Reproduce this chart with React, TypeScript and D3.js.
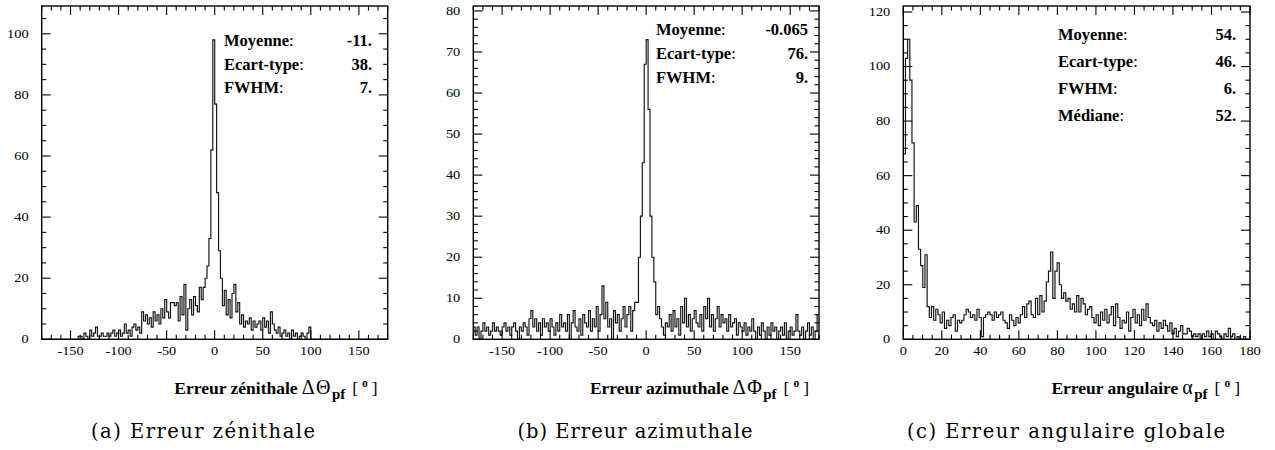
import * as d3 from 'd3';

// (a) zenith error, 2 deg bins from -180 to 180
const zenithBins = [
  0, 0, 0, 0, 0, 0, 0, 0, 0, 0,
  0, 0, 0, 0, 0, 0, 0, 0, 0, 1,
  1, 0, 2, 1, 0, 3, 1, 2, 4, 1,
  1, 2, 1, 1, 2, 1, 2, 3, 1, 2,
  3, 1, 2, 5, 2, 3, 1, 4, 5, 3,
  4, 2, 9, 6, 8, 5, 7, 4, 9, 6,
  8, 5, 10, 7, 13, 9, 7, 12, 12, 11,
  12, 6, 14, 8, 18, 3, 10, 13, 8, 14,
  11, 9, 17, 13, 17, 20, 24, 33, 62, 98,
  77, 48, 29, 20, 11, 16, 8, 13, 7, 15,
  18, 9, 12, 5, 8, 4, 6, 5, 7, 3,
  6, 4, 5, 6, 3, 7, 4, 6, 2, 9,
  5, 3, 2, 4, 1, 2, 3, 1, 2, 0,
  3, 1, 2, 0, 1, 2, 1, 0, 2, 4,
  0, 0, 0, 0, 0, 0, 0, 0, 0, 0,
  0, 0, 0, 0, 0, 0, 0, 0, 0, 0,
  0, 0, 0, 0, 0, 0, 0, 0, 0, 0,
  0, 0, 0, 0, 0, 0, 0, 0, 0, 0,
];

// (b) azimuth error, 2 deg bins from -180 to 180
const azimuthBins = [
  3, 1, 3, 0, 2, 4, 2, 3, 1, 2,
  4, 2, 3, 2, 1, 3, 4, 2, 3, 1,
  3, 4, 2, 0, 3, 2, 4, 3, 1, 5,
  7, 3, 5, 2, 4, 1, 5, 3, 4, 2,
  5, 3, 1, 4, 2, 6, 3, 4, 2, 6,
  0, 4, 7, 3, 2, 5, 1, 6, 4, 3,
  7, 2, 5, 3, 8, 2, 6, 13, 5, 9,
  3, 5, 0, 7, 4, 6, 2, 5, 8, 3,
  6, 8, 2, 7, 9, 9, 20, 30, 43, 67,
  73, 56, 30, 20, 14, 6, 8, 5, 3, 1,
  4, 3, 6, 2, 7, 3, 5, 1, 8, 4,
  10, 3, 6, 2, 5, 7, 4, 3, 6, 2,
  8, 5, 10, 3, 6, 2, 5, 8, 3, 6,
  4, 5, 2, 6, 3, 4, 5, 1, 4, 3,
  2, 4, 1, 3, 2, 5, 2, 0, 3, 1,
  4, 2, 0, 3, 1, 4, 2, 3, 0, 2,
  3, 1, 4, 0, 2, 3, 1, 2, 6, 2,
  1, 3, 0, 2, 4, 1, 3, 0, 2, 6,
];

// (c) global angular error, 1.125 deg bins from 0 to 180
const angleBins = [
  68, 103, 110, 95, 72, 43, 49, 33, 27, 19,
  31, 12, 8, 12, 7, 11, 9, 6, 10, 4,
  7, 5, 8, 9, 3, 7, 6, 7, 9, 11,
  10, 8, 9, 7, 11, 8, 1, 8, 9, 10,
  9, 7, 10, 8, 9, 10, 7, 6, 4, 9,
  7, 5, 8, 6, 9, 12, 8, 13, 14, 9,
  8, 15, 9, 16, 10, 14, 21, 25, 32, 15,
  25, 28, 20, 15, 17, 14, 15, 11, 13, 10,
  16, 10, 15, 13, 9, 11, 12, 8, 6, 9,
  5, 10, 7, 11, 6, 9, 12, 5, 13, 8,
  4, 7, 6, 10, 3, 8, 11, 6, 9, 5,
  11, 7, 13, 8, 6, 5, 7, 3, 6, 4,
  7, 5, 3, 6, 2, 4, 1, 3, 5, 2,
  2, 4, 3, 1, 2, 1, 2, 0, 2, 1,
  3, 1, 2, 0, 3, 2, 1, 0, 2, 1,
  4, 1, 2, 0, 1, 0, 0, 1, 0, 0,
];

const zenithStats: [string, string][] = [
  ['Moyenne', '-11.'],
  ['Ecart-type', '38.'],
  ['FWHM', '7.'],
];
const azimuthStats: [string, string][] = [
  ['Moyenne', '-0.065'],
  ['Ecart-type', '76.'],
  ['FWHM', '9.'],
];
const angleStats: [string, string][] = [
  ['Moyenne', '54.'],
  ['Ecart-type', '46.'],
  ['FWHM', '6.'],
  ['Médiane', '52.'],
];

const signedTicks = [-150, -100, -50, 0, 50, 100, 150];
const angleTicks = [0, 20, 40, 60, 80, 100, 120, 140, 160, 180];
const zenithYTicks = [0, 20, 40, 60, 80, 100];
const azimuthYTicks = [0, 10, 20, 30, 40, 50, 60, 70, 80];
const angleYTicks = [0, 20, 40, 60, 80, 100, 120];

const captions = ['(a) Erreur zénithale', '(b) Erreur azimuthale', '(c) Erreur angulaire globale'];

const SERIF = '"Liberation Serif", "Times New Roman", serif';
const CAPTION_FONT = '"DejaVu Serif", serif';
const TOP = 6;
const BOTTOM = 339.3;
const MAJOR = 9;
const MINOR = 4.5;

interface PanelProps {
  bins: number[];
  xDomain: [number, number];
  yMax: number;
  left: number;
  right: number;
  xTicks: number[];
  xMinor: number;
  yTicks: number[];
  yMinor: number;
  stats: [string, string][];
  statLeft: number;
  statRight: number;
  statTop: number;
  statStep: number;
  titleMain: string;
  titleSymbol: string;
  caption: string;
  captionX: number;
  captionWidth: number;
}

function labelWidth(s: string) {
  let w = 0;
  for (const c of s) w += c === '-' ? 4.6 : 7.2;
  return w;
}

function Panel(p: PanelProps) {
  const x = d3.scaleLinear().domain(p.xDomain).range([p.left, p.right]);
  const y = d3.scaleLinear().domain([0, p.yMax]).range([BOTTOM, TOP]);
  const n = p.bins.length;
  const bw = (p.xDomain[1] - p.xDomain[0]) / n;

  const pts: [number, number][] = p.bins.map((v, i) => [x(p.xDomain[0] + i * bw), y(v)]);
  pts.push([x(p.xDomain[1]), y(p.bins[n - 1])]);
  const path = d3.line().curve(d3.curveStepAfter)(pts) ?? '';

  const xMinorTicks = d3.range(p.xDomain[0], p.xDomain[1] + 1e-6, p.xMinor);
  const xMajorSet = new Set(p.xTicks);
  const yMinorTicks = d3.range(0, p.yMax + 1e-6, p.yMinor);
  const yMajorSet = new Set(p.yTicks);
  const clipId = `clip-${Math.round(p.left)}`;

  return (
    <g>
      <defs>
        <clipPath id={clipId}>
          <rect x={p.left} y={TOP} width={p.right - p.left} height={BOTTOM - TOP} />
        </clipPath>
      </defs>
      <path d={path} fill="none" stroke="#111" strokeWidth={1.15} clipPath={`url(#${clipId})`} />

      {/* ticks on all four sides, pointing inward */}
      {xMinorTicks.map((t) => {
        const len = xMajorSet.has(t) ? MAJOR : MINOR;
        return (
          <g key={`xt${t}`} stroke="#000" strokeWidth={1.1}>
            <line x1={x(t)} x2={x(t)} y1={BOTTOM} y2={BOTTOM - len} />
            <line x1={x(t)} x2={x(t)} y1={TOP} y2={TOP + len} />
          </g>
        );
      })}
      {yMinorTicks.map((t) => {
        const len = yMajorSet.has(t) ? MAJOR : MINOR;
        return (
          <g key={`yt${t}`} stroke="#000" strokeWidth={1.1}>
            <line x1={p.left} x2={p.left + len} y1={y(t)} y2={y(t)} />
            <line x1={p.right} x2={p.right - len} y1={y(t)} y2={y(t)} />
          </g>
        );
      })}
      <rect x={p.left} y={TOP} width={p.right - p.left} height={BOTTOM - TOP}
        fill="none" stroke="#000" strokeWidth={1.4} />

      {/* tick labels */}
      {p.xTicks.map((t) => (
        <text key={`xl${t}`} x={x(t)} y={354.5} textAnchor="middle" fontFamily={SERIF}
          fontSize={11.5} textLength={labelWidth(String(t))} lengthAdjust="spacingAndGlyphs">
          {String(t)}
        </text>
      ))}
      {p.yTicks.map((t) => (
        <text key={`yl${t}`} x={p.left - 13} y={y(t) + 3.9} textAnchor="end" fontFamily={SERIF}
          fontSize={11.5} textLength={labelWidth(String(t))} lengthAdjust="spacingAndGlyphs">
          {String(t)}
        </text>
      ))}

      {/* statistics box */}
      {p.stats.map(([k, v], i) => (
        <g key={k} fontFamily={SERIF} fontSize={16.5}>
          <text x={p.statLeft} y={p.statTop + i * p.statStep}>
            <tspan fontWeight="bold">{k}</tspan>:
          </text>
          <text x={p.statRight} y={p.statTop + i * p.statStep} textAnchor="end" fontWeight="bold">
            {v}
          </text>
        </g>
      ))}

      {/* axis title */}
      <text x={p.right - 10} y={393.5} textAnchor="end" fontFamily={SERIF} fontSize={17.5}>
        <tspan fontWeight="bold">{p.titleMain}</tspan>
        <tspan dx={4} fontSize={20} letterSpacing={1.5}>{p.titleSymbol}</tspan>
        <tspan fontWeight="bold" fontSize={15} dy={5.5}>pf</tspan>
        <tspan dx={7} dy={-5.5}>[</tspan>
        <tspan fontWeight="bold" fontSize={11.5} dx={4} dy={-7}>o</tspan>
        <tspan dx={4} dy={7}>]</tspan>
      </text>

      {/* sub-figure caption */}
      <text x={p.captionX} y={438} textAnchor="middle" fontFamily={CAPTION_FONT} fontSize={19.5}
        textLength={p.captionWidth} lengthAdjust="spacing">
        {p.caption}
      </text>
    </g>
  );
}

export default function App() {
  return (
    <svg width={1275} height={450} style={{ position: 'absolute', left: 0, top: 0, background: '#fff' }}>
      <rect width={1275} height={450} fill="#fff" />
      <Panel
        bins={zenithBins} xDomain={[-180, 180]} yMax={109.1} left={41.7} right={387.7}
        xTicks={signedTicks} xMinor={10} yTicks={zenithYTicks} yMinor={5}
        stats={zenithStats} statLeft={224} statRight={372} statTop={46} statStep={23.5}
        titleMain="Erreur zénithale" titleSymbol="ΔΘ"
        caption={captions[0]} captionX={203} captionWidth={224}
      />
      <Panel
        bins={azimuthBins} xDomain={[-180, 180]} yMax={81.2} left={473.3} right={819}
        xTicks={signedTicks} xMinor={10} yTicks={azimuthYTicks} yMinor={2}
        stats={azimuthStats} statLeft={656} statRight={808} statTop={35} statStep={24}
        titleMain="Erreur azimuthale" titleSymbol="ΔΦ"
        caption={captions[1]} captionX={635} captionWidth={235}
      />
      <Panel
        bins={angleBins} xDomain={[0, 180]} yMax={122.2} left={903.3} right={1250}
        xTicks={angleTicks} xMinor={5} yTicks={angleYTicks} yMinor={5}
        stats={angleStats} statLeft={1058} statRight={1236} statTop={40} statStep={27}
        titleMain="Erreur angulaire" titleSymbol="α"
        caption={captions[2]} captionX={1066} captionWidth={318}
      />
    </svg>
  );
}
